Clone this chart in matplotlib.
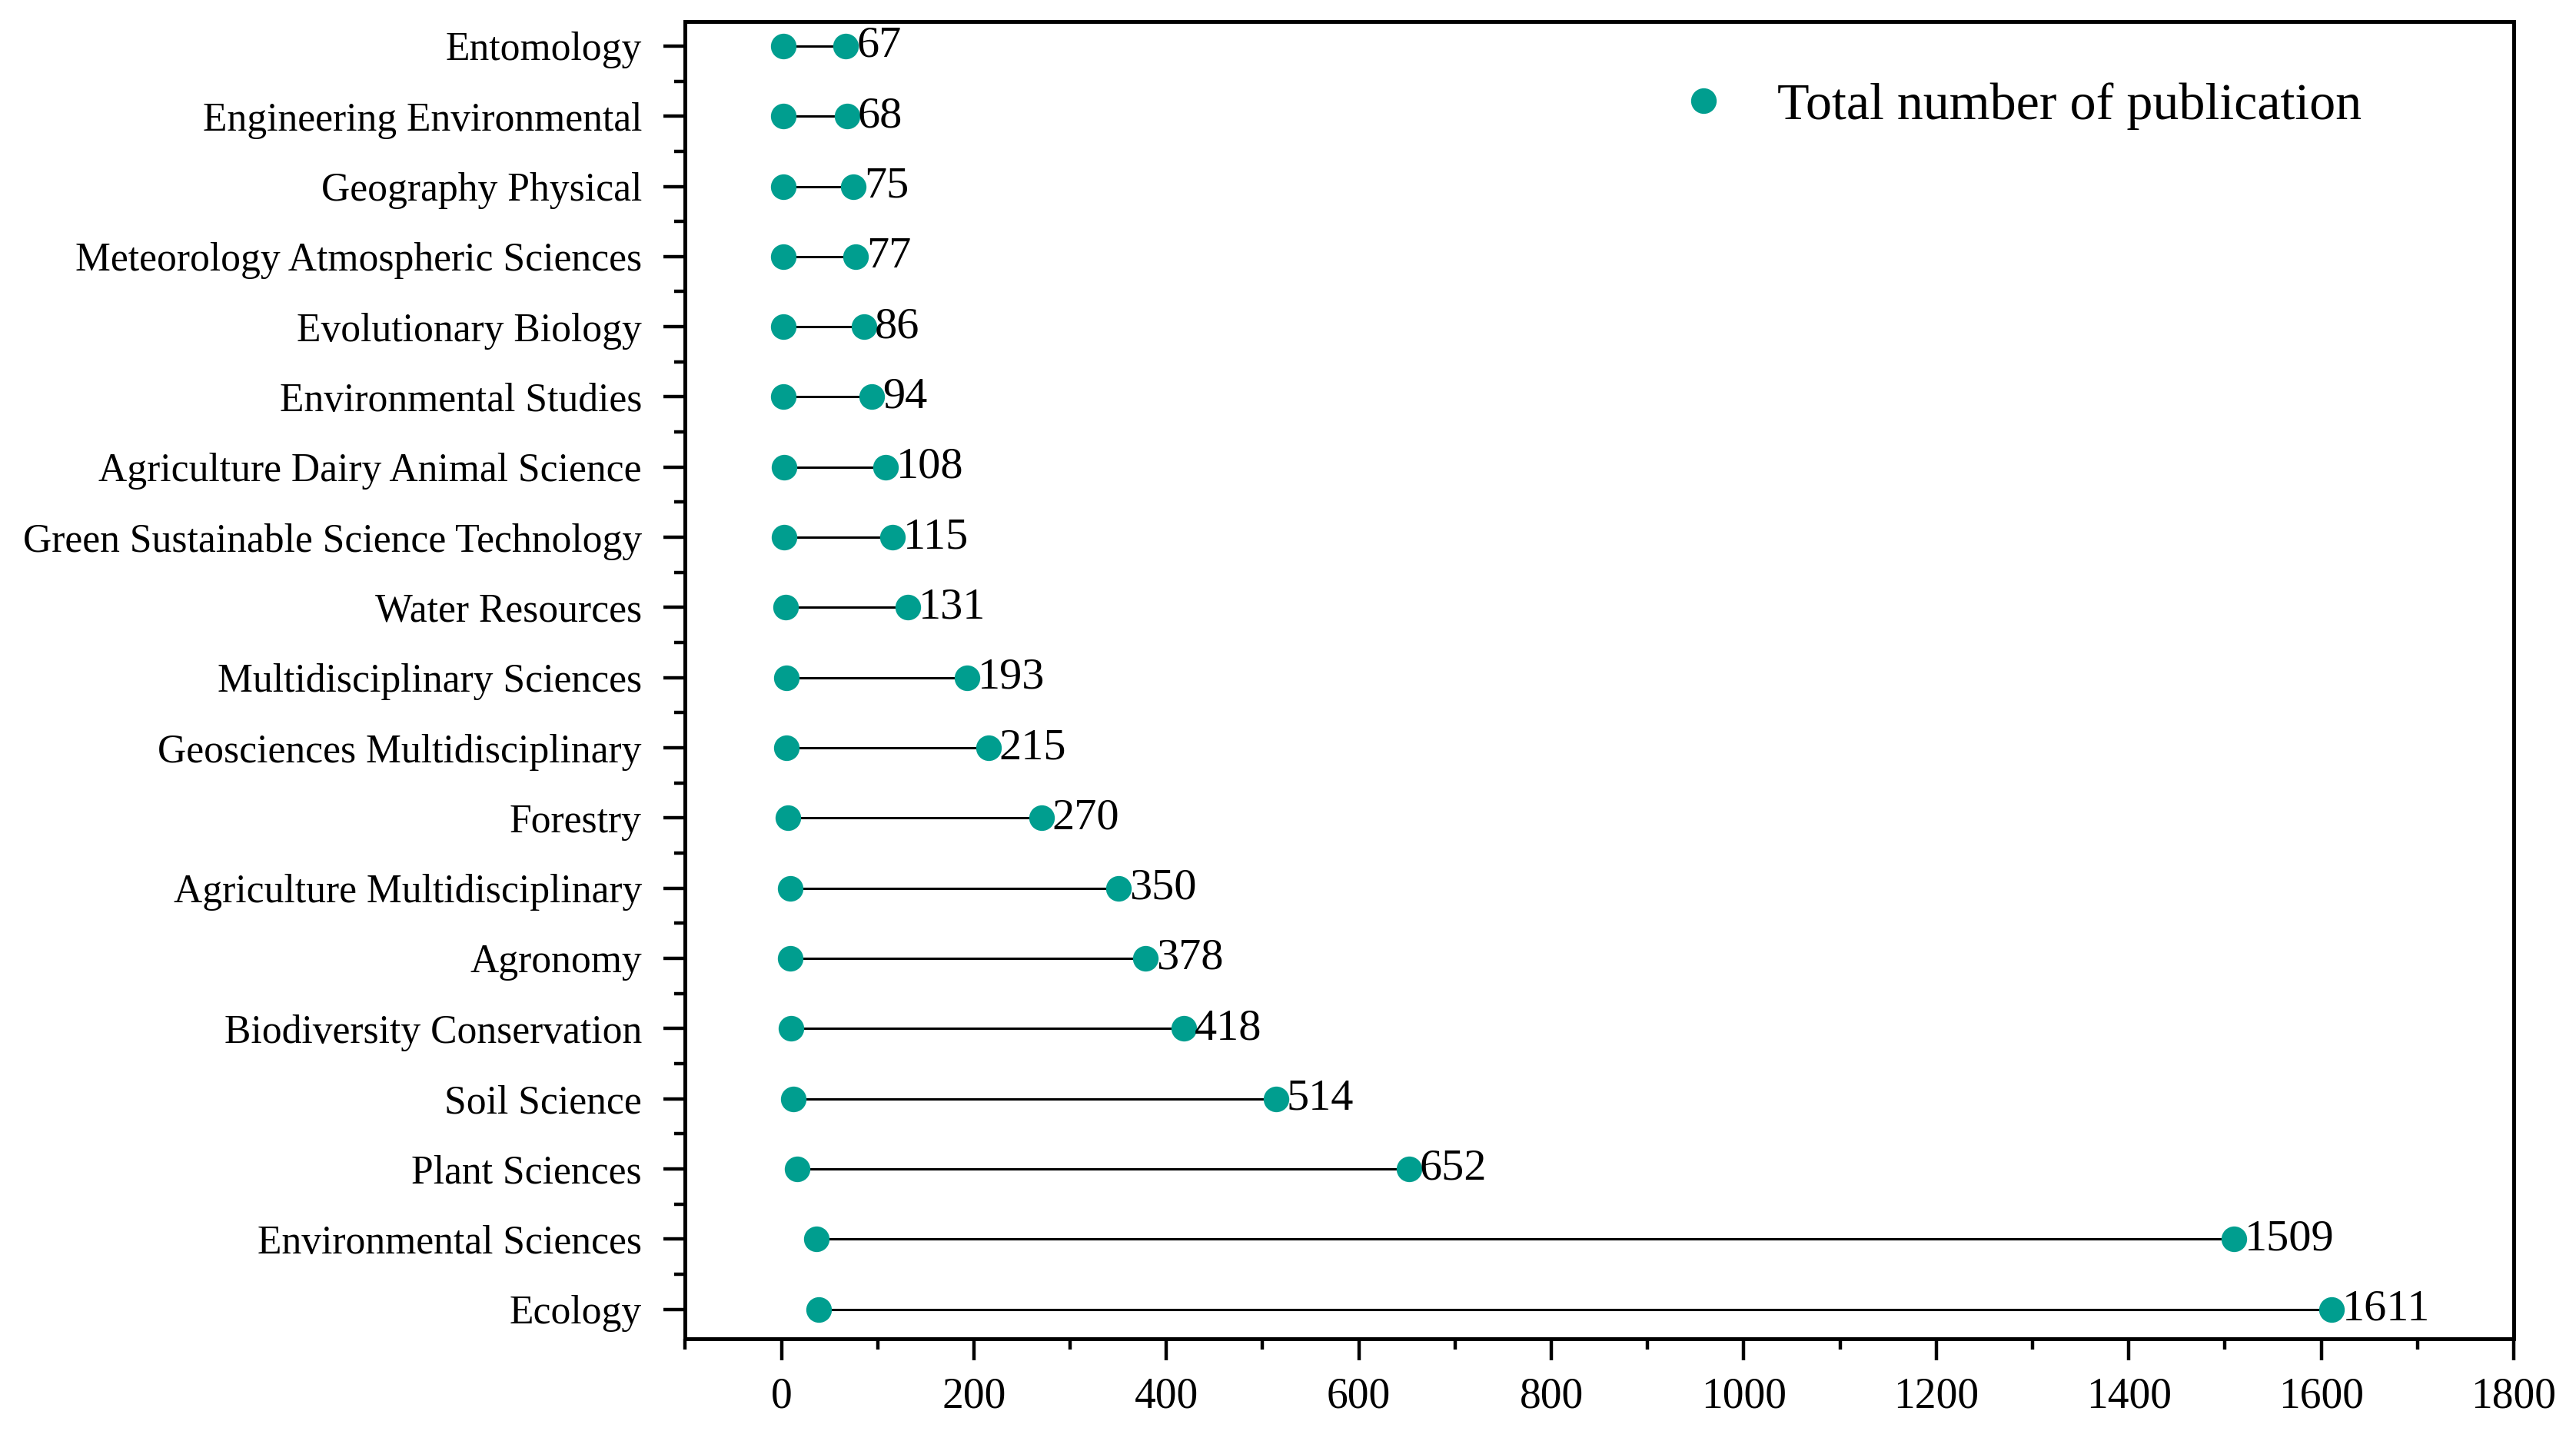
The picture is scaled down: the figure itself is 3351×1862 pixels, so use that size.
import matplotlib
matplotlib.use("Agg")
import matplotlib.pyplot as plt
from matplotlib.ticker import MultipleLocator, FixedLocator

plt.rcParams['font.family'] = ['Liberation Serif', 'DejaVu Serif']

# bottom-to-top order
categories = ["Ecology", "Environmental Sciences", "Plant Sciences", "Soil Science",
              "Biodiversity Conservation", "Agronomy", "Agriculture Multidisciplinary",
              "Forestry", "Geosciences Multidisciplinary", "Multidisciplinary Sciences",
              "Water Resources", "Green Sustainable Science Technology",
              "Agriculture Dairy Animal Science", "Environmental Studies",
              "Evolutionary Biology", "Meteorology Atmospheric Sciences",
              "Geography Physical", "Engineering Environmental", "Entomology"]
start_values = [39, 36, 16, 12, 10, 9, 9, 7, 5, 5, 4, 3, 3, 2, 2, 2, 2, 2, 2]
total_values = [1611, 1509, 652, 514, 418, 378, 350, 270, 215, 193, 131, 115, 108,
                94, 86, 77, 75, 68, 67]
legend_label = "Total number of publication"
color = "#009E8F"

fig = plt.figure(figsize=(3351/200, 1862/200), dpi=200)
ax = fig.add_axes([0.266, 0.0645, 0.9758-0.266, 0.985-0.0645])

ypos = list(range(len(categories)))
ax.hlines(ypos, start_values, total_values, color="black", lw=1.1, zorder=1)
ax.plot(start_values, ypos, 'o', color=color, ms=12, mew=0, zorder=3)
ax.plot(total_values, ypos, 'o', color=color, ms=12, mew=0, zorder=3, label=legend_label)

for y, v in zip(ypos, total_values):
    ax.annotate(str(v), (v, y), xytext=(5, 0), textcoords="offset points",
                ha="left", va="center", fontsize=21)

ax.set_xlim(-100, 1800)
ax.set_ylim(-0.42, 18.35)
ax.set_yticks(ypos)
ax.set_yticklabels(categories, fontsize=18.6)
ax.yaxis.set_minor_locator(FixedLocator([y + 0.5 for y in ypos[:-1]]))
ax.xaxis.set_major_locator(MultipleLocator(200))
ax.xaxis.set_minor_locator(MultipleLocator(100))
ax.tick_params(axis='x', labelsize=20)

for s in ax.spines.values():
    s.set_linewidth(1.8)
ax.tick_params(which='major', length=10, width=1.6, direction='out')
ax.tick_params(axis='y', which='major', pad=10.3)
ax.tick_params(axis='x', which='major', pad=8)
ax.tick_params(which='minor', length=5, width=1.6, direction='out')
ax.tick_params(top=False, right=False, which='both')

ax.legend(loc='center left', bbox_to_anchor=(0.651, 0.926), bbox_transform=fig.transFigure,
          frameon=False, fontsize=24.5, handlelength=1.0, handletextpad=0.92,
          borderpad=0, borderaxespad=0, numpoints=1)

fig.savefig("out.png", dpi=200, facecolor="white")
